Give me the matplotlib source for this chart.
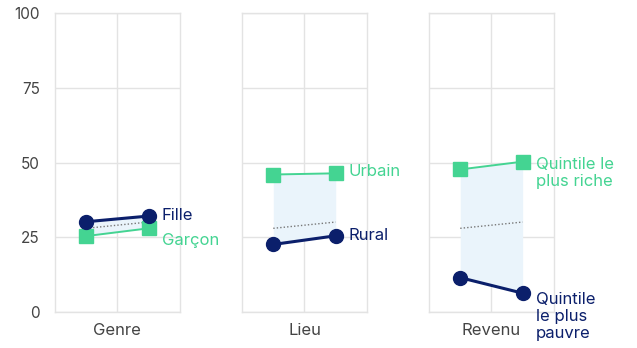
import matplotlib.pyplot as plt

plt.rcParams['font.family'] = ['Inter', 'DejaVu Sans']

# data
groups = ['Genre', 'Lieu', 'Revenu']
xpos = [0.25, 0.75]
high_vals = [[25.4, 28.0], [46.0, 46.4], [47.7, 50.3]]   # green squares
low_vals = [[30.2, 32.1], [22.6, 25.5], [11.5, 6.3]]     # navy circles
avg_vals = [28.0, 30.1]                                  # dotted average
high_labels = ['Garçon', 'Urbain', 'Quintile le\nplus riche']
low_labels = ['Fille', 'Rural', 'Quintile\nle plus\npauvre']
high_label_y = [24.0, 47.0, 46.5]
low_label_y = [32.3, 25.5, -1.5]

navy = '#0b1f6b'
green = '#44d492'
shade = '#eaf4fb'
gridc = '#e3e3e3'
textc = '#444444'

fig = plt.figure(figsize=(6.37, 3.48), dpi=100)
lefts = [0.0863, 0.380, 0.6735]
for i, g in enumerate(groups):
    ax = fig.add_axes([lefts[i], 0.1034, 0.196, 0.859])
    ax.set_xlim(0, 1)
    ax.set_ylim(0, 100)
    ax.set_yticks([0, 25, 50, 75, 100])
    ax.set_xticks([0.5])
    ax.grid(True, color=gridc, linewidth=1)
    ax.set_axisbelow(True)
    for s in ax.spines.values():
        s.set_color(gridc)
        s.set_linewidth(1)
    ax.tick_params(length=0, labelcolor=textc)
    ax.tick_params(axis='x', pad=8, labelsize=12)
    ax.tick_params(axis='y', pad=11, labelsize=11)
    ax.set_xticklabels([g])
    if i > 0:
        ax.set_yticklabels([])

    # shaded gap between the two series
    ax.fill_between(xpos, low_vals[i], high_vals[i], color=shade, linewidth=0, zorder=1)
    ax.plot(xpos, avg_vals, linestyle=(0, (1, 1.5)), color='#777777', linewidth=1, zorder=2)
    ax.plot(xpos, high_vals[i], color=green, linewidth=1.4, marker='s',
            markersize=10, zorder=3, clip_on=False)
    ax.plot(xpos, low_vals[i], color=navy, linewidth=2.2, marker='o',
            markersize=10, zorder=4, clip_on=False)

    ax.text(0.855, high_label_y[i], high_labels[i], color=green, fontsize=12,
            va='center', ha='left', linespacing=1.2, clip_on=False)
    ax.text(0.855, low_label_y[i], low_labels[i], color=navy, fontsize=12,
            va='center', ha='left', linespacing=1.2, clip_on=False)

fig.savefig('out.png', dpi=100)
